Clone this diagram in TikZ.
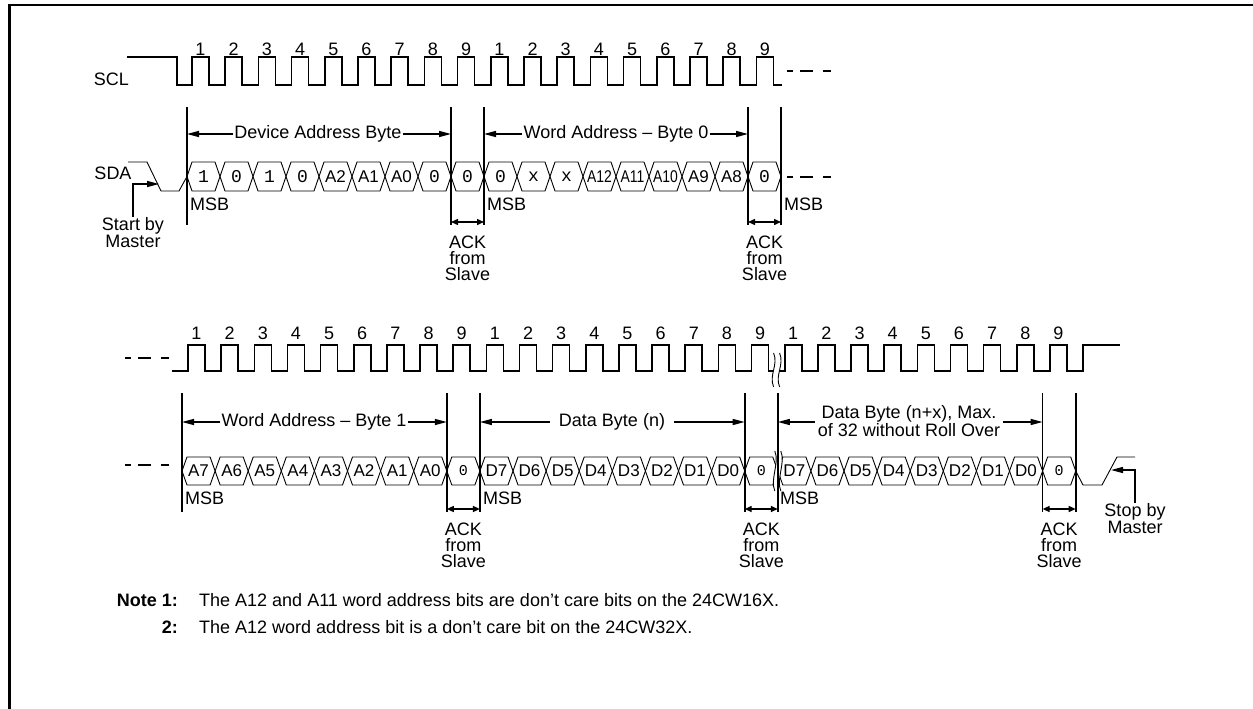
\documentclass[tikz,border=0pt]{standalone}
\usepackage{fontspec}
\setmainfont{Liberation Sans}
\newfontfamily\monofont{Liberation Mono}
\usetikzlibrary{arrows.meta, positioning}
\newcommand{\mb}[1]{{\fontsize{18}{18}\selectfont\monofont #1}}
\newcommand{\nb}[1]{\scalebox{0.82}[1]{#1}}
\newcommand{\ak}{{\fontsize{15}{15}\selectfont\monofont 0}}
\newcommand{\breakmark}[3]{%
  \fill[white] (#1-3,#2) .. controls (#1+2,#2+12) and (#1-8,#3-12) .. (#1-3,#3) -- (#1+3,#3) .. controls (#1-2,#3-12) and (#1+8,#2+12) .. (#1+3,#2) -- cycle;
  \draw[bus] (#1-3,#2) .. controls (#1+2,#2+12) and (#1-8,#3-12) .. (#1-3,#3)
             (#1+3,#2) .. controls (#1+8,#2+12) and (#1-2,#3-12) .. (#1+3,#3);}

\begin{document}
\begin{tikzpicture}[x=1pt, y=-1pt, font=\fontsize{18}{16}\selectfont,
  every node/.style={inner sep=1pt},
  sig/.style={line width=1.6pt},
  bus/.style={line width=0.9pt},
  marker/.style={line width=1.7pt},
  arr/.style={line width=1.4pt, -{Triangle[length=12pt,width=6pt]}},
  ack/.style={line width=1.4pt, {Triangle[length=7pt,width=6pt]}-{Triangle[length=7pt,width=6pt]}},
  bit/.style={font=\fontsize{17}{17}\selectfont, inner sep=0pt},
  dashes/.style={line width=1.4pt, dash pattern=on 6pt off 7pt on 13pt off 10pt on 8pt off 40pt},
  txt/.style={align=center}]
\useasboundingbox (0,0) rectangle (1253,709);
\draw[line width=2.7pt] (1253,5) -- (9.5,5) -- (9.5,709);

% ---- first line: device address and word address byte 0
\node[anchor=east] (SCL) at (130,79) {SCL};
\node (SDA) at (113,173) {SDA};
\draw[sig] (127,57) -- (177,57) -- (177,85)
  \foreach \k in {0,...,17} { -- ({192+33.2*\k},85) -- ++(0,-28) -- ++(17,0) -- ++(0,28) }
  -- (782,85);
\foreach \k [evaluate=\k as \n using {int(mod(\k,9)+1)}] in {0,...,17}
  \node (c1-\k) at ({200.5+33.2*\k},49) {\n};
\draw[dashes] (787,71) -- (840,71);
\draw[bus] (128,162) -- (147,162) -- (161,191) -- (179,191) -- (187,176.5);
\foreach \t [count=\k from 0] in {\mb1,\mb0,\mb1,\mb0,A2,A1,A0,\mb0,\mb0,\mb0,\mb x,\mb x,\nb{A12},\nb{A11},\nb{A10},A9,A8,\mb0} {
  \draw[bus] ({187+33*\k},176.5) -- ++(5,-14.5) -- ++(23,0) -- ++(5,14.5) -- ++(-5,14.5) -- ++(-23,0) -- cycle;
  \node[bit] (b1-\k) at ({203.5+33*\k},177) {\t};
}
\draw[dashes] (787,177) -- (840,177);
\foreach \x [count=\i] in {187,451,484,748,781} {
  \draw[marker] (\x,107) coordinate (T\i) -- (\x,225) coordinate (B\i);
  \coordinate (K\i) at (\x,222);
}
\node (DAB) at (318,134) {Device Address Byte};
\node (WA0) at (616,134) {Word Address -- Byte 0};
\draw[arr] (DAB) -- (DAB -| T1);
\draw[arr] (DAB) -- (DAB -| T2);
\draw[arr] (WA0) -- (WA0 -| T3);
\draw[arr] (WA0) -- (WA0 -| T4);
\draw[ack] (K2) -- (K3);
\draw[ack] (K4) -- (K5);
\node[anchor=west] (MSB1) at (189,204) {MSB};
\node[anchor=west] (MSB2) at (486,204) {MSB};
\node[anchor=west] (MSB3) at (783,204) {MSB};
\node[txt] (ACK1) at (467.5,258) {ACK\\from\\Slave};
\node[txt] (ACK2) at (764.5,258) {ACK\\from\\Slave};
\node[txt] (START) at (133,233) {Start by\\Master};
\coordinate (STARTTIP) at (159,184);
\draw[arr] (START.north) |- (STARTTIP);

% ---- second line: word address byte 1 and data bytes
\draw[dashes] (125,358) -- (170,358);
\draw[sig] (172,371)
  \foreach \k in {0,...,26} { -- ({188+33.15*\k},371) -- ++(0,-26) -- ++(17,0) -- ++(0,26) }
  -- (1083,371) -- (1083,345) -- (1120,345);
\foreach \k [evaluate=\k as \n using {int(mod(\k,9)+1)}] in {0,...,26}
  \node (c2-\k) at ({196.5+33.15*\k},333) {\n};
\draw[dashes] (125,465) -- (170,465);
\foreach \t [count=\k from 0] in {A7,A6,A5,A4,A3,A2,A1,A0,\ak,D7,D6,D5,D4,D3,D2,D1,D0,\ak,D7,D6,D5,D4,D3,D2,D1,D0,\ak} {
  \draw[bus] ({182+33.1*\k},471) -- ++(5,-14) -- ++(23.1,0) -- ++(5,14) -- ++(-5,14) -- ++(-23.1,0) -- cycle;
  \node[bit] (b2-\k) at ({198.55+33.1*\k},471) {\t};
}
\draw[bus] (1075.7,471) -- (1083,485) -- (1102,485) -- (1117,457) -- (1135,457);
\breakmark{776.6}{353}{387}
\breakmark{777.8}{451}{491}
\foreach \x [count=\i] in {182,446.8,479.9,744.7,777.8,1042.6,1075.7} {
  \draw[marker] (\x,393) coordinate (U\i) -- (\x,512) coordinate (L\i);
  \coordinate (Q\i) at (\x,509);
}
\node (WA1) at (314,422) {Word Address -- Byte 1};
\node (DBN) at (612,422) {Data Byte (n)};
\node[txt, inner sep=3pt] (DBX) at (909,421) {Data Byte (n+x), Max.\\of 32 without Roll Over};
\draw[arr] (WA1) -- (WA1 -| U1);
\draw[arr] (WA1) -- (WA1 -| U2);
\draw[arr] ([xshift=-8pt]DBN.west) -- (DBN -| U3);
\draw[arr] ([xshift=8pt]DBN.east) -- (DBN -| U4);
\draw[arr] (DBX.west |- 0,422) -- (U5 |- 0,422);
\draw[arr] (DBX.east |- 0,422) -- (U6 |- 0,422);
\draw[ack] (Q2) -- (Q3);
\draw[ack] (Q4) -- (Q5);
\draw[ack] (Q6) -- (Q7);
\node[anchor=west] (MSB4) at (184,498) {MSB};
\node[anchor=west] (MSB5) at (482,498) {MSB};
\node[anchor=west] (MSB6) at (779,498) {MSB};
\node[txt] (ACK3) at (463.4,545) {ACK\\from\\Slave};
\node[txt] (ACK4) at (761.3,545) {ACK\\from\\Slave};
\node[txt] (ACK5) at (1059.2,545) {ACK\\from\\Slave};
\node[txt] (STOP) at (1135,519) {Stop by\\Master};
\coordinate (STOPTIP) at (1111,470);
\draw[arr] (STOP.north) |- (STOPTIP);

% ---- notes
\node[anchor=east, font=\fontsize{18}{18}\selectfont\bfseries] (N1) at (179,600) {Note 1:};
\node[anchor=west, font=\fontsize{18}{18}\selectfont] (T1) at (198,600) {The A12 and A11 word address bits are don’t care bits on the 24CW16X.};
\node[anchor=east, font=\fontsize{18}{18}\selectfont\bfseries] (N2) at (179,627) {2:};
\node[anchor=west, font=\fontsize{18}{18}\selectfont] (T2) at (198,627) {The A12 word address bit is a don’t care bit on the 24CW32X.};
\end{tikzpicture}
\end{document}
